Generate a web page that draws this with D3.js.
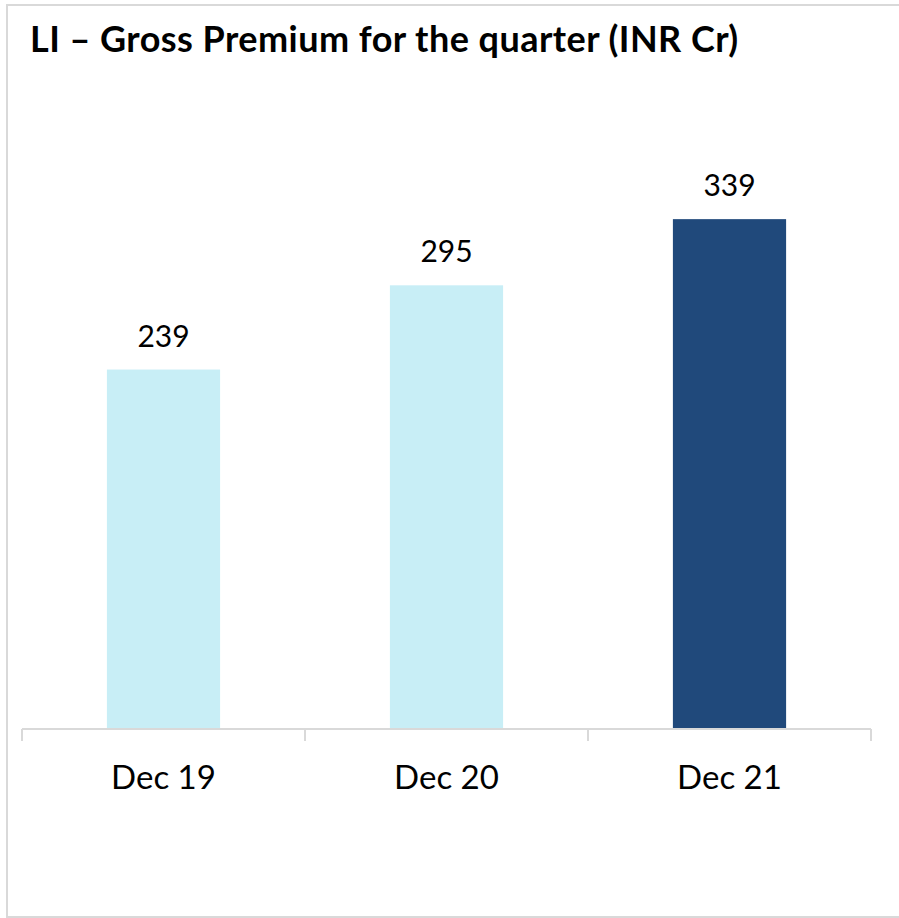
<!DOCTYPE html>
<html>
<head>
<meta charset="utf-8">
<script src="https://cdn.jsdelivr.net/npm/d3@7"></script>
<style>
  body { margin: 0; background: #fff; }
  text { font-family: Lato, "Open Sans", sans-serif; fill: #000; }
</style>
</head>
<body>
<script>
// data
var categories = ["Dec 19", "Dec 20", "Dec 21"];
var premiums = [239, 295, 339];
var barColors = ["#C8EEF6", "#C8EEF6", "#20497B"];
var chartTitle = "LI \u2013 Gross Premium for the quarter (INR Cr)";

var svgWidth = 899, svgHeight = 918;

var svg = d3.select("body").append("svg")
    .attr("width", svgWidth)
    .attr("height", svgHeight);

// outer frame
svg.append("rect")
    .attr("x", 7).attr("y", 5)
    .attr("width", svgWidth + 10).attr("height", svgHeight - 6)
    .attr("fill", "none")
    .attr("stroke", "#D9D9D9")
    .attr("stroke-width", 2);

// title
svg.append("text")
    .attr("x", 30).attr("y", 52)
    .attr("font-size", 36)
    .attr("font-weight", "bold")
    .attr("letter-spacing", 0.45)
    .text(chartTitle);

// plot area
var left = 22, right = 871, baseY = 729;

var xScale = d3.scaleBand()
    .domain(categories)
    .range([left, right])
    .paddingInner(0.6)
    .paddingOuter(0.3);

var yScale = d3.scaleLinear()
    .domain([0, 400])
    .range([baseY, baseY - 400 * 1.504]);

// bars
svg.selectAll("rect.bar")
    .data(premiums)
    .enter()
    .append("rect")
    .attr("class", "bar")
    .attr("x", (d, i) => xScale(categories[i]))
    .attr("y", d => yScale(d))
    .attr("width", xScale.bandwidth())
    .attr("height", d => baseY - yScale(d))
    .attr("fill", (d, i) => barColors[i]);

// value labels
svg.selectAll("text.val")
    .data(premiums)
    .enter()
    .append("text")
    .attr("class", "val")
    .attr("x", (d, i) => xScale(categories[i]) + xScale.bandwidth() / 2)
    .attr("y", d => yScale(d) - 23)
    .attr("text-anchor", "middle")
    .attr("font-size", 30)
    .text(d => d);

// x axis line with tick marks at category boundaries
var axisG = svg.append("g");
axisG.append("line")
    .attr("x1", left).attr("x2", right)
    .attr("y1", baseY).attr("y2", baseY)
    .attr("stroke", "#D9D9D9").attr("stroke-width", 2);

var bounds = d3.range(categories.length + 1).map(i => left + i * (right - left) / categories.length);
axisG.selectAll("line.tick")
    .data(bounds)
    .enter()
    .append("line")
    .attr("class", "tick")
    .attr("x1", d => d).attr("x2", d => d)
    .attr("y1", baseY).attr("y2", baseY + 12)
    .attr("stroke", "#D9D9D9").attr("stroke-width", 2);

// category labels
svg.selectAll("text.cat")
    .data(categories)
    .enter()
    .append("text")
    .attr("class", "cat")
    .attr("x", d => xScale(d) + xScale.bandwidth() / 2)
    .attr("y", baseY + 60)
    .attr("text-anchor", "middle")
    .attr("font-size", 33)
    .text(d => d);
</script>
</body>
</html>
